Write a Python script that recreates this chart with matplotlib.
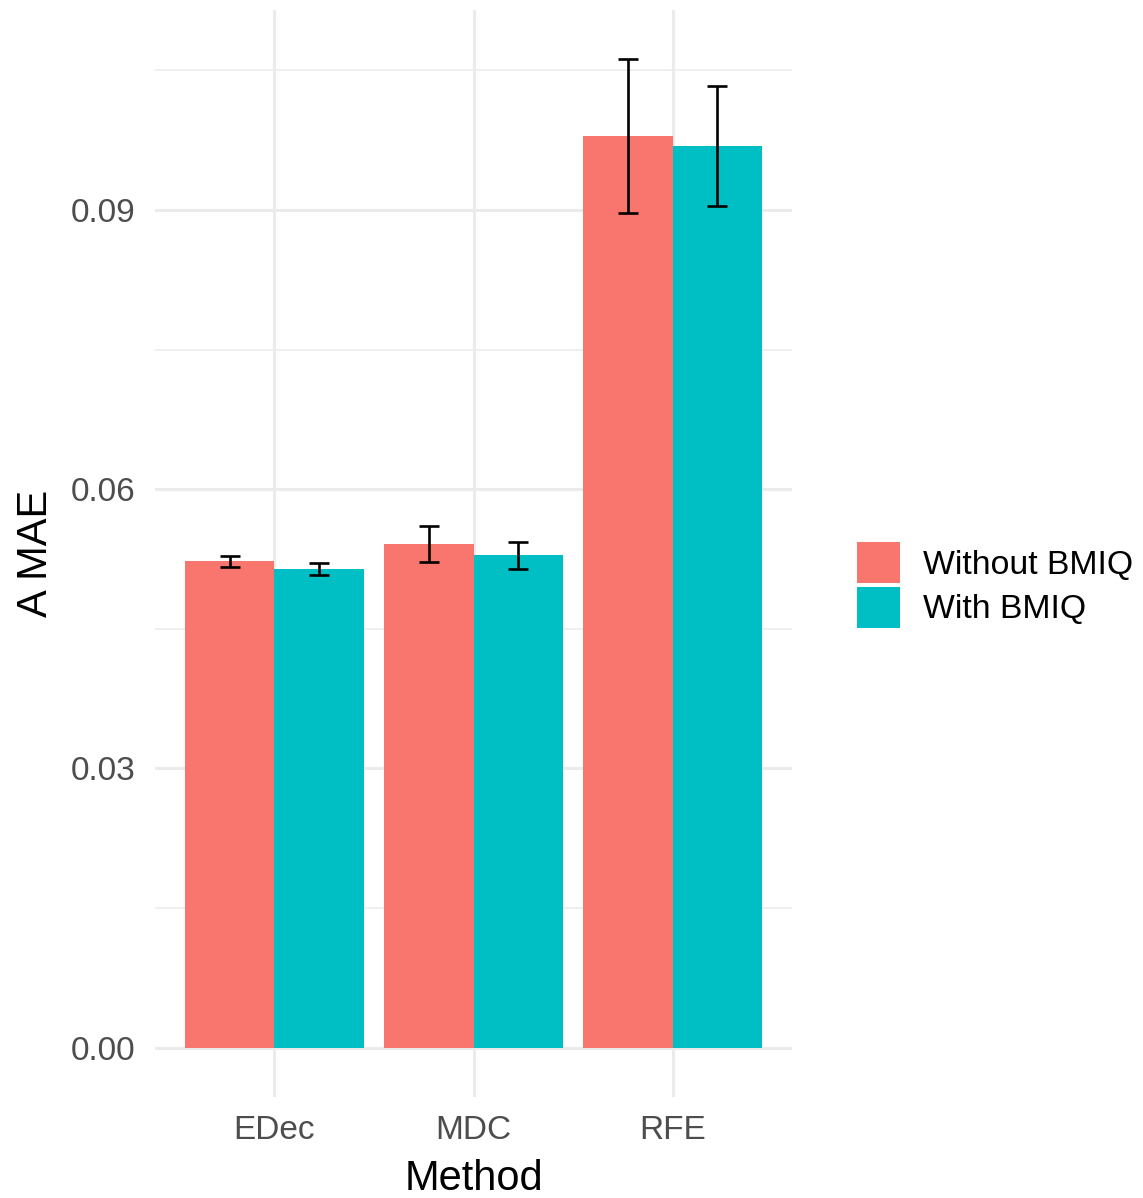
import numpy as np
import matplotlib.pyplot as plt
from matplotlib.patches import Patch

# mean absolute error per deconvolution method, with and without BMIQ normalisation
methods = ["EDec", "MDC", "RFE"]
groups = ["Without BMIQ", "With BMIQ"]
mae_without = [0.05226, 0.05412, 0.09796]
err_without = [0.00059, 0.00190, 0.00826]
mae_with = [0.05140, 0.05290, 0.09688]
err_with = [0.00066, 0.00145, 0.00640]

colors = ["#F8766D", "#00BFC4"]
grid_col = "#EBEBEB"

plt.rcParams["font.family"] = ["Liberation Sans", "DejaVu Sans"]

W, H = 1143, 1198
fig = plt.figure(figsize=(W / 100, H / 100), dpi=100)
ax = fig.add_axes([155 / W, 101 / H, 637 / W, 1087 / H])

x = np.arange(1, len(methods) + 1)
bw = 0.45
for off, vals, errs, col in [(-bw / 2, mae_without, err_without, colors[0]),
                             (bw / 2, mae_with, err_with, colors[1])]:
    ax.bar(x + off, vals, width=bw, color=col, zorder=2)
    ax.errorbar(x + off, vals, yerr=errs, fmt="none", ecolor="black",
                elinewidth=1.9, capsize=7.5, capthick=1.9, zorder=3)

ax.set_xlim(0.4, 3.6)
ax.set_ylim(-0.00531, 0.1115)

ax.set_xticks(x)
ax.set_xticklabels(methods)
ax.set_yticks([0.0, 0.03, 0.06, 0.09])
ax.set_yticklabels(["0.00", "0.03", "0.06", "0.09"])
ax.set_yticks([0.015, 0.045, 0.075, 0.105], minor=True)

# minimal theme: no frame, no tick marks, light gridlines
for s in ax.spines.values():
    s.set_visible(False)
ax.tick_params(axis="both", which="both", length=0, labelsize=24, labelcolor="#4D4D4D")
ax.tick_params(axis="x", pad=13)
ax.tick_params(axis="y", pad=14)
ax.grid(True, which="major", color=grid_col, linewidth=2.2, zorder=0)
ax.grid(True, which="minor", axis="y", color=grid_col, linewidth=1.1, zorder=0)
ax.set_axisbelow(True)

ax.set_xlabel("Method", fontsize=30, labelpad=9)
ax.set_ylabel("A MAE", fontsize=30, labelpad=11)

handles = [Patch(facecolor=c) for c in colors]
fig.legend(handles, groups, loc="center left", bbox_to_anchor=(857 / W, 1 - 585 / H),
           frameon=False, fontsize=24.3, handlelength=1.28, handleheight=1.5,
           handletextpad=0.68, labelspacing=0.09, borderpad=0, borderaxespad=0)

fig.savefig("out.png", dpi=100)
